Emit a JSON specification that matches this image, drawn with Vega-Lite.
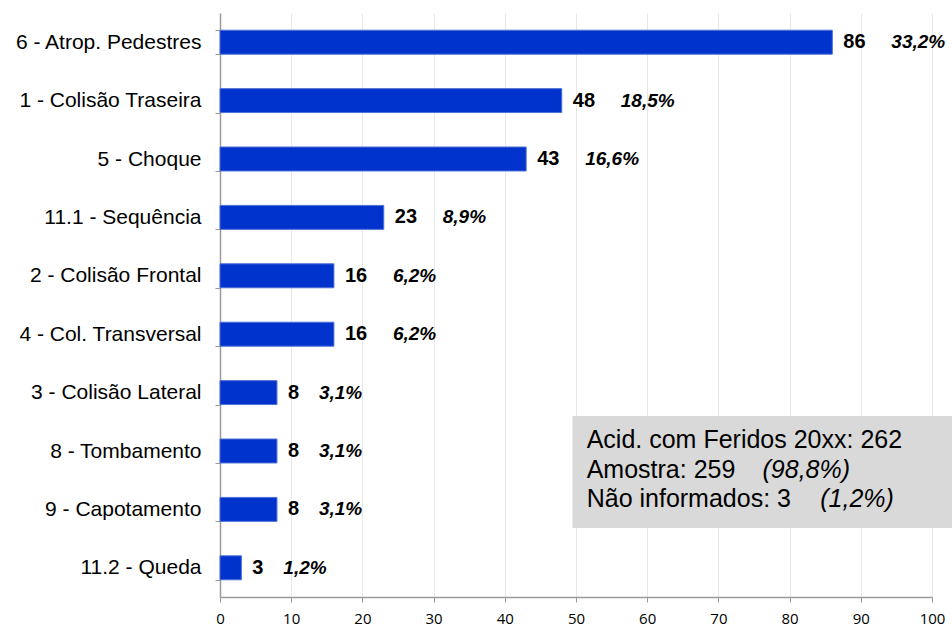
{
  "$schema": "https://vega.github.io/schema/vega-lite/v6.json",
  "width": 712,
  "height": 584,
  "autosize": {"type": "none"},
  "padding": {"left": 220, "top": 13, "right": 20, "bottom": 32},
  "background": "white",
  "config": {
    "view": {"stroke": null},
    "axisX": {"labelFont": "Open Sans", "labelFontSize": 15, "labelColor": "#000", "labelPadding": 9, "labelFlush": false, "labelOverlap": false},
    "axisY": {"labelFont": "Arial", "labelFontSize": 21, "labelColor": "#000", "labelPadding": 14, "labelLimit": 400}
  },
  "datasets": {
    "acid": [
      {"cat": "6 - Atrop. Pedestres", "n": 86, "pct": "33,2%"},
      {"cat": "1 - Colisão Traseira", "n": 48, "pct": "18,5%"},
      {"cat": "5 - Choque", "n": 43, "pct": "16,6%"},
      {"cat": "11.1 - Sequência", "n": 23, "pct": "8,9%"},
      {"cat": "2 - Colisão Frontal", "n": 16, "pct": "6,2%"},
      {"cat": "4 - Col. Transversal", "n": 16, "pct": "6,2%"},
      {"cat": "3 - Colisão Lateral", "n": 8, "pct": "3,1%"},
      {"cat": "8 - Tombamento", "n": 8, "pct": "3,1%"},
      {"cat": "9 - Capotamento", "n": 8, "pct": "3,1%"},
      {"cat": "11.2 - Queda", "n": 3, "pct": "1,2%"}
    ],
    "note": [{"k": 1}]
  },
  "layer": [
    {
      "data": {"name": "acid"},
      "encoding": {
        "y": {
          "field": "cat", "type": "nominal", "sort": null,
          "scale": {"paddingInner": 0.59, "paddingOuter": 0.295},
          "axis": {
            "title": null, "tickSize": 5,
            "tickColor": "#9a9a9a", "domainColor": "#9a9a9a", "domainWidth": 1.5,
            "tickBand": "extent", "grid": false
          }
        },
        "x": {
          "field": "n", "type": "quantitative",
          "scale": {"domain": [0, 100]},
          "axis": {
            "title": null, "values": [0,10,20,30,40,50,60,70,80,90,100],
            "tickSize": 5, "tickColor": "#9a9a9a", "domainColor": "#9a9a9a",
            "domainWidth": 1.5, "grid": true, "gridColor": "#e8e8e8"
          }
        }
      },
      "layer": [
        {"mark": {"type": "bar", "color": "#0033cc", "stroke": "#4d6fd8", "strokeWidth": 1}},
        {"mark": {"type": "text", "align": "left", "baseline": "middle", "dx": 11, "font": "Arial", "fontSize": 20, "fontWeight": "bold", "color": "#000"},
         "encoding": {"text": {"field": "n"}}},
        {"transform": [{"filter": "datum.n >= 10"}],
         "mark": {"type": "text", "align": "left", "baseline": "middle", "dx": 59, "font": "Arial", "fontSize": 19, "fontWeight": "bold", "fontStyle": "italic", "color": "#000"},
         "encoding": {"text": {"field": "pct"}}},
        {"transform": [{"filter": "datum.n < 10"}],
         "mark": {"type": "text", "align": "left", "baseline": "middle", "dx": 42, "font": "Arial", "fontSize": 19, "fontWeight": "bold", "fontStyle": "italic", "color": "#000"},
         "encoding": {"text": {"field": "pct"}}}
      ]
    },
    {
      "data": {"name": "note"},
      "encoding": {
        "y": {"datum": 0, "type": "quantitative", "scale": {"domain": [0, 100], "reverse": true}, "axis": null}
      },
      "layer": [
        {"mark": {"type": "rect", "color": "#d9d9d9"},
         "encoding": {"x": {"datum": 49.5, "type": "quantitative"}, "x2": {"datum": 102.9}, "y": {"datum": 69.0, "type": "quantitative"}, "y2": {"datum": 88.2}}},
        {"mark": {"type": "text", "align": "left", "baseline": "alphabetic", "font": "Arial", "fontSize": 25, "color": "#000", "text": "Acid. com Feridos 20xx: 262"},
         "encoding": {"x": {"datum": 51.5, "type": "quantitative"}, "y": {"datum": 74.5, "type": "quantitative"}}},
        {"mark": {"type": "text", "align": "left", "baseline": "alphabetic", "font": "Arial", "fontSize": 25, "color": "#000", "text": "Amostra: 259"},
         "encoding": {"x": {"datum": 51.5, "type": "quantitative"}, "y": {"datum": 79.6, "type": "quantitative"}}},
        {"mark": {"type": "text", "align": "left", "baseline": "alphabetic", "font": "Arial", "fontSize": 25, "fontStyle": "italic", "color": "#000", "text": "(98,8%)"},
         "encoding": {"x": {"datum": 76.2, "type": "quantitative"}, "y": {"datum": 79.6, "type": "quantitative"}}},
        {"mark": {"type": "text", "align": "left", "baseline": "alphabetic", "font": "Arial", "fontSize": 25, "color": "#000", "text": "Não informados: 3"},
         "encoding": {"x": {"datum": 51.5, "type": "quantitative"}, "y": {"datum": 84.6, "type": "quantitative"}}},
        {"mark": {"type": "text", "align": "left", "baseline": "alphabetic", "font": "Arial", "fontSize": 25, "fontStyle": "italic", "color": "#000", "text": "(1,2%)"},
         "encoding": {"x": {"datum": 84.3, "type": "quantitative"}, "y": {"datum": 84.6, "type": "quantitative"}}}
      ]
    }
  ],
  "resolve": {"scale": {"y": "independent"}, "axis": {"y": "independent"}}
}
